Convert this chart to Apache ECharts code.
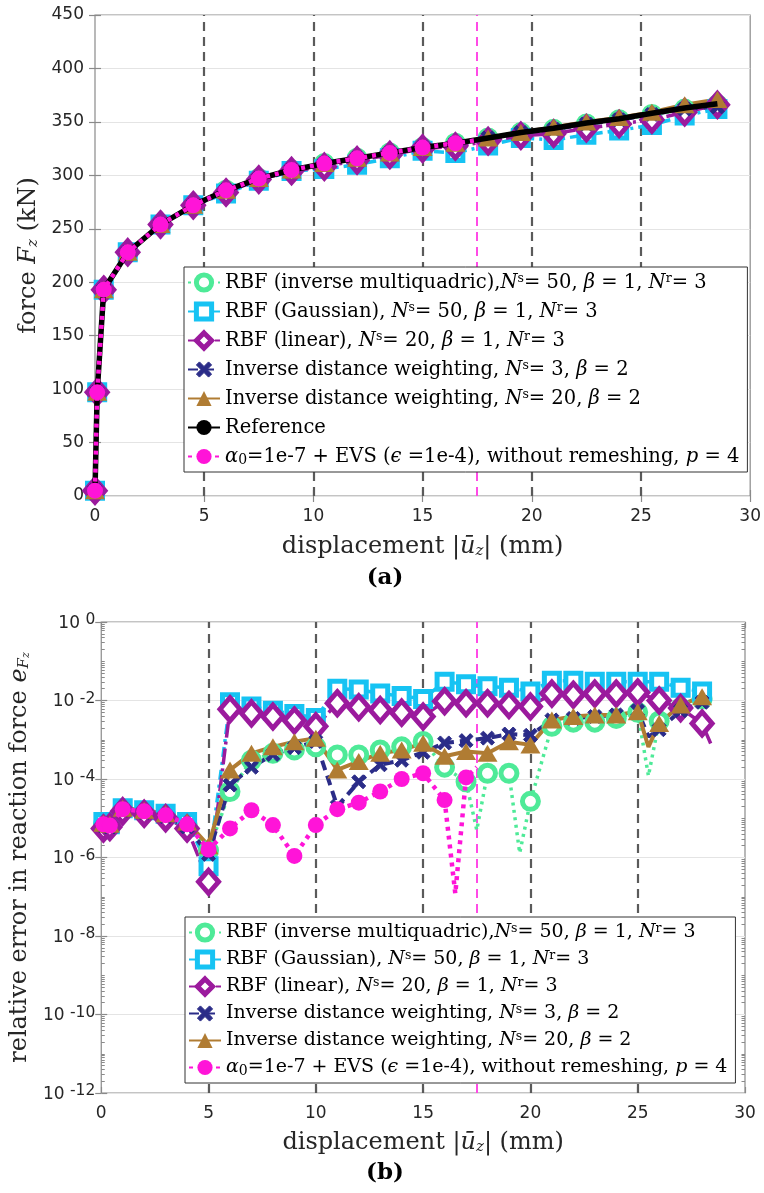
<!DOCTYPE html>
<html>
<head>
<meta charset="utf-8">
<script src="https://cdn.jsdelivr.net/npm/echarts@6/dist/echarts.min.js"></script>
<style>
  html, body { margin: 0; padding: 0; background: #fff; }
  #chart { width: 764px; height: 1193px; }
</style>
</head>
<body>
<div id="chart"></div>
<script>
// ---------------- (a) reaction force vs. displacement ----------------
const forceX      = [0, 0.1, 0.4, 1.5, 3, 4.5, 6, 7.5, 9, 10.5, 12, 13.5, 15, 16.5, 18, 19.5, 21, 22.5, 24, 25.5, 27, 28.5];
const forceImq    = [5, 97, 193, 228, 254, 272, 286, 297, 305, 311, 316, 321, 326, 330, 335, 340, 343, 348, 352, 357, 362, 366];
const forceGauss  = [5, 97, 193, 228, 254, 272, 283, 295, 304, 306, 310, 316, 323, 321, 328, 335, 333, 338, 342, 347, 356, 362];
const forceLin    = [5, 97, 193, 228, 254, 272, 284, 296, 304, 308, 314, 319, 325, 327, 332, 337, 339, 344, 348, 352, 359, 366];
const forceIdw3   = [5, 97, 193, 228, 254, 272, 286, 297, 305, 311, 316, 321, 326, 330, 335, 340, 343, 348, 352, 357, 362, 364];
const forceIdw20  = [5, 97, 193, 228, 254, 272, 286, 297, 305, 311, 316, 321, 326, 330, 335, 340, 345, 350, 354, 359, 366, 371];
const forceRef    = [5, 97, 193, 228, 254, 272, 286, 297, 305, 311, 316, 321, 326, 330, 335, 340, 344, 349, 353, 358, 363, 367];
const forceEvs    = [5, 97, 193, 228, 254, 272, 286, 297, 305, 311, 316, 321, 326, 330];
const forceEvsTail = [[17.5, 333]];          // last converged step, drawn without a marker

// ---------------- (b) relative error in reaction force ----------------
const errX     = [0.1, 0.4, 1, 2, 3, 4, 5, 6, 7, 8, 9, 10, 11, 12, 13, 14, 15, 16, 17, 18, 19, 20, 21, 22, 23, 24, 25, 26, 27, 28];
const errImq   = [7e-6, 6.5e-6, 1.7e-5, 1.5e-5, 1.2e-5, 7e-6, 1.5e-6, 4.8e-5, 3.0e-4, 4.5e-4, 5.5e-4, 6.6e-4, 4.1e-4, 4.1e-4, 5.5e-4, 6.6e-4, 9e-4, 2.0e-4, 8.5e-5, 1.4e-4, 1.4e-4, 2.7e-5, 2.2e-3, 2.8e-3, 2.8e-3, 3.5e-3, 5e-3, 3.0e-3, 6.5e-3, 1.1e-2];
const errGauss = [8e-6, 7e-6, 1.8e-5, 1.6e-5, 1.3e-5, 8e-6, 6e-7, 9e-3, 7e-3, 5.5e-3, 4.5e-3, 3.6e-3, 2.0e-2, 1.9e-2, 1.5e-2, 1.3e-2, 1.1e-2, 3.0e-2, 2.6e-2, 2.3e-2, 2.1e-2, 1.7e-2, 3.2e-2, 3.2e-2, 3.0e-2, 3.0e-2, 3.0e-2, 3.0e-2, 2.1e-2, 1.7e-2];
const errLin   = [5.5e-6, 6e-6, 1.5e-5, 1.3e-5, 1.0e-5, 5.5e-6, 2.4e-7, 6.0e-3, 4.7e-3, 3.9e-3, 3.1e-3, 2.2e-3, 8.5e-3, 6.7e-3, 5.7e-3, 4.9e-3, 3.9e-3, 9.6e-3, 8.5e-3, 8.5e-3, 7.7e-3, 7.0e-3, 1.5e-2, 1.4e-2, 1.5e-2, 1.5e-2, 1.6e-2, 1.0e-2, 6.4e-3, 2.6e-3];
const errIdw3  = [6.5e-6, 6e-6, 1.6e-5, 1.4e-5, 1.1e-5, 6e-6, 1.2e-6, 7e-5, 2.0e-4, 4.2e-4, 6.3e-4, 9e-4, 2e-5, 8.5e-5, 2.3e-4, 3.0e-4, 4.8e-4, 8.3e-4, 9.5e-4, 1.1e-3, 1.4e-3, 1.3e-3, 3.2e-3, 3.5e-3, 3.9e-3, 4.3e-3, 5.5e-3, 1.8e-3, 5.5e-3, 9e-3];
const errIdw20 = [7.5e-6, 7e-6, 1.8e-5, 1.6e-5, 1.3e-5, 8e-6, 2e-6, 1.7e-4, 4.5e-4, 6.6e-4, 8.9e-4, 1.1e-3, 1.7e-4, 2.8e-4, 4.5e-4, 5.5e-4, 8.1e-4, 3.8e-4, 5.0e-4, 4.5e-4, 8.9e-4, 7.4e-4, 3.2e-3, 3.9e-3, 4.3e-3, 4.3e-3, 5.2e-3, 2.6e-3, 7.7e-3, 1.25e-2];
const errEvs   = [7e-6, 6.5e-6, 1.7e-5, 1.5e-5, 1.2e-5, 7e-6, 1.6e-6, 5.5e-6, 1.6e-5, 6.7e-6, 1.1e-6, 6.7e-6, 1.7e-5, 2.5e-5, 4.8e-5, 1.0e-4, 1.4e-4, 2.9e-5, 1.1e-4];
// intermediate steps between marked ones (line only)
const errImqSteps   = [[17.5, 5e-6], [19.5, 1.3e-6], [25.5, 1.2e-4]];
const errLinSteps   = [[28.4, 8e-4]];
const errIdw3Steps  = [[25.5, 1.2e-3]];
const errIdw20Steps = [[25.5, 6.6e-4]];
const errEvsSteps   = [[16.5, 1.2e-7], [17.5, 2e-4]];

// axis ticks and guide lines
const remeshX     = [5, 10, 15, 20, 25];
const failureX    = [17.5];
const forceTicks  = { min: 0, max: 450, step: 50 };
const dispTicks   = { min: 0, max: 30, step: 5 };

// ---------------- styling ----------------
const SERIF = 'DejaVu Serif';
const SANS = 'DejaVu Sans';
const TICK_COLOR = '#262626';
const BOX_COLOR = '#8a8a8a';
const X_PATH = 'path://M0,2 L2,0 L5,3 L8,0 L10,2 L7,5 L10,8 L8,10 L5,7 L2,10 L0,8 L3,5 Z';

const seriesDefs = [
  { key: 'imq',   name: 'RBF (inverse multiquadric), Nˢ= 50, β = 1, Nʳ= 3',
    label: 'RBF (inverse multiquadric),{i|N}{sup|s}= 50, {i|β} = 1, {i|N}{sup|r}= 3',
    color: '#4EEA98', symbol: 'circle', size: 16, open: true, border: 5, dash: [3, 4.5], width: 3.5, z: 2 },
  { key: 'gauss', name: 'RBF (Gaussian), Nˢ= 50, β = 1, Nʳ= 3',
    label: 'RBF (Gaussian), {i|N}{sup|s}= 50, {i|β} = 1, {i|N}{sup|r}= 3',
    color: '#16C3F3', symbol: 'rect', size: 15, open: true, border: 5, dash: [10, 5, 3, 5], width: 3.5, z: 2 },
  { key: 'lin',   name: 'RBF (linear), Nˢ= 20, β = 1, Nʳ= 3',
    label: 'RBF (linear), {i|N}{sup|s}= 20, {i|β} = 1, {i|N}{sup|r}= 3',
    color: '#9B1A9D', symbol: 'diamond', size: [20, 23], open: true, border: 5, dash: [16, 4, 3, 4], width: 3.5, z: 2 },
  { key: 'idw3',  name: 'Inverse distance weighting, Nˢ= 3, β = 2',
    label: 'Inverse distance weighting, {i|N}{sup|s}= 3, {i|β} = 2',
    color: '#2B2C88', symbol: X_PATH, size: 14, open: false, border: 1, dash: [10, 6], width: 4, z: 2 },
  { key: 'idw20', name: 'Inverse distance weighting, Nˢ= 20, β = 2',
    label: 'Inverse distance weighting, {i|N}{sup|s}= 20, {i|β} = 2',
    color: '#B07C33', symbol: 'triangle', size: [20, 17], open: false, border: 0, dash: 'solid', width: 4, z: 2 },
  { key: 'ref',   name: 'Reference', label: 'Reference',
    color: '#000000', symbol: 'none', size: 0, open: false, border: 0, dash: 'solid', width: 5.5, z: 3 },
  { key: 'evs',   name: 'α0=1e-7 + EVS (ϵ =1e-4), without remeshing, p = 4',
    label: '{i|α}{sub|0}=1e-7 + EVS ({i|ϵ} =1e-4), without remeshing, {i|p} = 4',
    color: '#FF14D8', symbol: 'circle', size: 16, open: false, border: 0, dash: [4, 5], width: 4.5, z: 4 }
];

const forceData = {
  imq: [forceImq, []], gauss: [forceGauss, []], lin: [forceLin, []], idw3: [forceIdw3, []],
  idw20: [forceIdw20, []], ref: [forceRef, []], evs: [forceEvs, forceEvsTail]
};
const errData = {
  imq: [errImq, errImqSteps], gauss: [errGauss, []], lin: [errLin, errLinSteps],
  idw3: [errIdw3, errIdw3Steps], idw20: [errIdw20, errIdw20Steps], evs: [errEvs, errEvsSteps]
};

function buildPoints(xs, ys, steps) {
  const pts = ys.map((y, i) => ({ value: [xs[i], y] }));
  steps.forEach(([x, y]) => pts.push({ value: [x, y], symbol: 'none' }));
  pts.sort((a, b) => a.value[0] - b.value[0]);
  return pts;
}

function markerStyle(def) {
  return def.open
    ? { color: '#ffffff', borderColor: def.color, borderWidth: def.border }
    : { color: def.color, borderColor: def.color, borderWidth: def.border };
}

function makeSeries(def, data, xs, gridIdx) {
  return {
    type: 'line',
    name: def.name,
    xAxisIndex: gridIdx * 2,
    yAxisIndex: gridIdx * 2,
    z: def.z,
    data: buildPoints(xs, data[0], data[1]),
    symbol: def.symbol,
    symbolSize: def.size,
    showAllSymbol: true,
    animation: false,
    itemStyle: markerStyle(def),
    lineStyle: { color: def.color, width: def.width, type: def.dash, cap: 'butt' },
    emphasis: { disabled: true }
  };
}

const series = [];
seriesDefs.forEach(def => series.push(makeSeries(def, forceData[def.key], forceX, 0)));
seriesDefs.forEach(def => { if (errData[def.key]) series.push(makeSeries(def, errData[def.key], errX, 1)); });

// vertical guide lines (remeshing steps and failure of the run without remeshing)
function guideSeries(gridIdx) {
  return {
    type: 'line', xAxisIndex: gridIdx * 2, yAxisIndex: gridIdx * 2, data: [], silent: true, z: 1,
    markLine: {
      silent: true, symbol: 'none', z: 1, animation: false, label: { show: false },
      data: remeshX.map(x => ({ xAxis: x, lineStyle: { color: '#5a5a5a', width: 2.2, type: [9, 6] } }))
        .concat(failureX.map(x => ({ xAxis: x, lineStyle: { color: '#FF4BE6', width: 2, type: [9, 6] } })))
    }
  };
}
series.unshift(guideSeries(1));
series.unshift(guideSeries(0));

// log minor tick positions (m x 10^k between the labelled decades)
const logMinor = [];
for (let k = -12; k < 0; k++) {
  for (let m = 1; m <= 9; m++) {
    if (m === 1 && k % 2 === 0) continue;
    logMinor.push(m * Math.pow(10, k));
  }
}

const tickLabel = { fontFamily: SANS, fontSize: 17, color: TICK_COLOR };
const nameStyle = {
  fontFamily: SERIF, fontSize: 24, color: '#262626',
  rich: {
    i: { fontFamily: SERIF, fontStyle: 'italic', fontSize: 24, color: '#262626' },
    sub: { fontFamily: SERIF, fontStyle: 'italic', fontSize: 15, verticalAlign: 'bottom', lineHeight: 14, color: '#262626' },
    sub2: { fontFamily: SERIF, fontStyle: 'italic', fontSize: 11, verticalAlign: 'bottom', lineHeight: 8, color: '#262626' }
  }
};

function mirrorAxis(base, extra) { return Object.assign({}, base, extra); }

const xBase = {
  type: 'value', min: dispTicks.min, max: dispTicks.max, interval: dispTicks.step,
  axisLine: { show: false },
  axisTick: { show: true, inside: true, length: 6, lineStyle: { color: BOX_COLOR, width: 1.2 } },
  axisLabel: Object.assign({ margin: 12 }, tickLabel),
  splitLine: { show: false }
};
const xName = 'displacement |{i|ū}{sub|z}| (mm)';

function makeLegend(defs, o) {
  const labelOf = {};
  defs.forEach(d => { labelOf[d.name] = d.label; });
  return {
    orient: 'vertical', left: o.left, top: o.top,
    data: defs.map(d => ({ name: d.name, itemStyle: markerStyle(d) })),
    backgroundColor: '#ffffff', borderColor: '#333333', borderWidth: 1,
    padding: [5, 8, 5, 3],
    itemWidth: 32, itemHeight: 19, itemGap: o.itemGap,
    selectedMode: false, z: 6,
    formatter: name => labelOf[name],
    textStyle: {
      fontFamily: SERIF, fontSize: o.fontSize, color: '#000', lineHeight: 21,
      rich: {
        i: { fontFamily: SERIF, fontStyle: 'italic', fontSize: o.fontSize, color: '#000', lineHeight: 21 },
        sup: { fontFamily: SERIF, fontSize: 12.5, color: '#000', verticalAlign: 'top', lineHeight: 12 },
        sub: { fontFamily: SERIF, fontSize: 14, color: '#000', verticalAlign: 'bottom', lineHeight: 12 }
      }
    }
  };
}

const option = {
  animation: false,
  backgroundColor: '#ffffff',
  grid: [
    { left: 95, right: 11, top: 15, height: 481, show: true, borderColor: BOX_COLOR, borderWidth: 1.2, backgroundColor: '#fff' },
    { left: 100, right: 19, top: 622, height: 471, show: true, borderColor: BOX_COLOR, borderWidth: 1.2, backgroundColor: '#fff' }
  ],
  xAxis: [
    mirrorAxis(xBase, { gridIndex: 0, position: 'bottom', name: xName, nameLocation: 'middle', nameGap: 39, nameTextStyle: nameStyle }),
    mirrorAxis(xBase, { gridIndex: 0, position: 'top', axisLabel: { show: false } }),
    mirrorAxis(xBase, { gridIndex: 1, position: 'bottom', name: xName, nameLocation: 'middle', nameGap: 38, nameTextStyle: nameStyle }),
    mirrorAxis(xBase, { gridIndex: 1, position: 'top', axisLabel: { show: false } })
  ],
  yAxis: [
    {
      gridIndex: 0, type: 'value', position: 'left', min: forceTicks.min, max: forceTicks.max, interval: forceTicks.step,
      axisLine: { show: false },
      axisTick: { show: true, inside: true, length: 6, lineStyle: { color: BOX_COLOR, width: 1.2 } },
      axisLabel: Object.assign({ margin: 11 }, tickLabel),
      splitLine: { show: true, lineStyle: { color: '#e4e4e4', width: 1 } },
      name: 'force {i|F}{sub|z} (kN)', nameLocation: 'middle', nameGap: 50, nameTextStyle: nameStyle
    },
    {
      gridIndex: 0, type: 'value', position: 'right', min: forceTicks.min, max: forceTicks.max, interval: forceTicks.step,
      axisLine: { show: false },
      axisTick: { show: true, inside: true, length: 6, lineStyle: { color: BOX_COLOR, width: 1.2 } },
      axisLabel: { show: false }, splitLine: { show: false }
    },
    {
      gridIndex: 1, type: 'log', logBase: 10, position: 'left', min: 1e-12, max: 1, interval: 2,
      axisLine: { show: false },
      axisTick: { show: true, inside: true, length: 6, lineStyle: { color: BOX_COLOR, width: 1.2 } },
      axisLabel: {
        margin: 6,
        formatter: v => '{b|10 }{e|' + Math.round(Math.log10(v)) + '}',
        rich: {
          b: { fontFamily: SANS, fontSize: 17, color: TICK_COLOR, verticalAlign: 'bottom', lineHeight: 20 },
          e: { fontFamily: SANS, fontSize: 15.5, color: TICK_COLOR, verticalAlign: 'top', lineHeight: 16 }
        }
      },
      splitLine: { show: true, lineStyle: { color: '#e4e4e4', width: 1 } },
      name: 'relative error in reaction force {i|e}{sub|F}{sub2|z}', nameLocation: 'middle', nameGap: 62, nameTextStyle: nameStyle
    },
    {
      gridIndex: 1, type: 'log', logBase: 10, position: 'right', min: 1e-12, max: 1, interval: 2,
      axisLine: { show: false },
      axisTick: { show: true, inside: true, length: 6, lineStyle: { color: BOX_COLOR, width: 1.2 } },
      axisLabel: { show: false }, splitLine: { show: false }
    },
    {
      gridIndex: 1, type: 'log', logBase: 10, position: 'left', min: 1e-12, max: 1,
      axisLine: { show: false },
      axisTick: { show: true, inside: true, length: 3.5, customValues: logMinor, lineStyle: { color: BOX_COLOR, width: 1 } },
      axisLabel: { show: false }, splitLine: { show: false }
    },
    {
      gridIndex: 1, type: 'log', logBase: 10, position: 'right', min: 1e-12, max: 1,
      axisLine: { show: false },
      axisTick: { show: true, inside: true, length: 3.5, customValues: logMinor, lineStyle: { color: BOX_COLOR, width: 1 } },
      axisLabel: { show: false }, splitLine: { show: false }
    }
  ],
  legend: [
    makeLegend(seriesDefs, { left: 184, top: 267, itemGap: 8, fontSize: 19.5 }),
    makeLegend(seriesDefs.filter(d => d.key !== 'ref'), { left: 185, top: 917, itemGap: 6, fontSize: 19 })
  ],
  graphic: [
    { type: 'text', x: 385, y: 578, style: { text: '(a)', align: 'center', verticalAlign: 'middle', font: 'bold 23px "DejaVu Serif"', fill: '#000' } },
    { type: 'text', x: 385, y: 1173, style: { text: '(b)', align: 'center', verticalAlign: 'middle', font: 'bold 23px "DejaVu Serif"', fill: '#000' } }
  ],
  series: series
};

const chart = echarts.init(document.getElementById('chart'), null, { renderer: 'canvas' });
chart.setOption(option);
</script>
</body>
</html>
